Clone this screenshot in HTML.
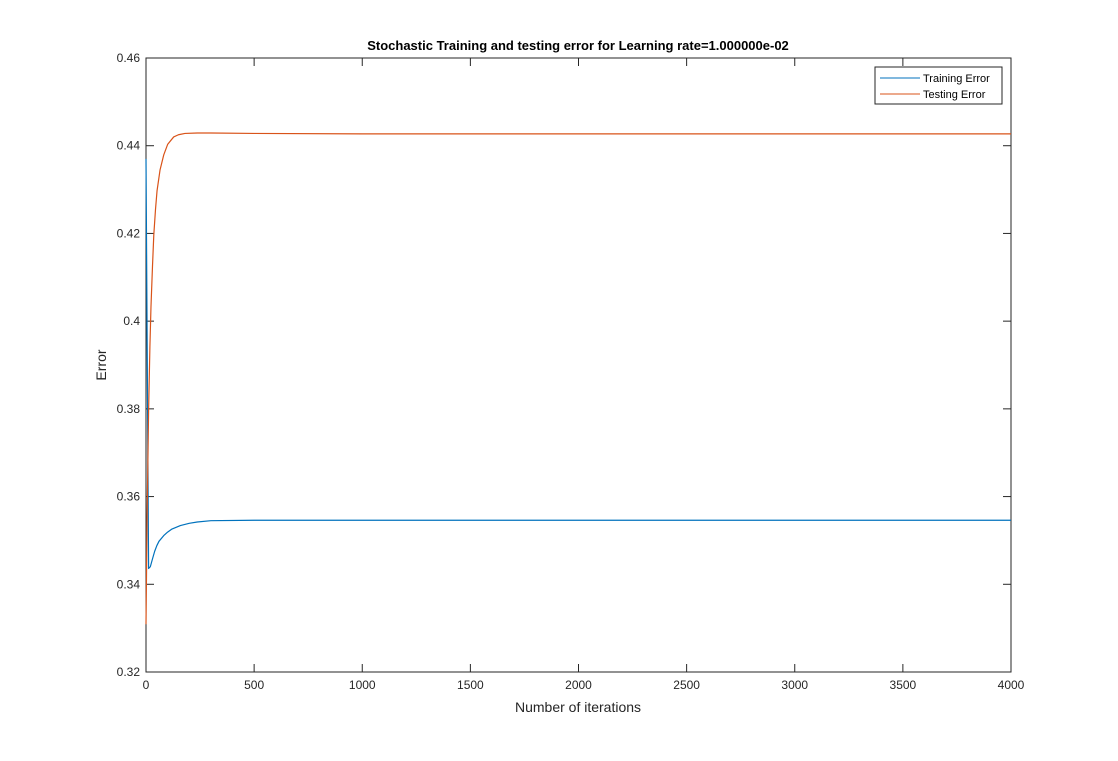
<!DOCTYPE html>
<html><head><meta charset="utf-8"><style>
body{margin:0;background:#fff;}
svg text{font-family:"Liberation Sans",Arial,sans-serif;}
</style></head><body>
<svg id="chart" width="1118" height="756">
<rect x="0" y="0" width="1118" height="756" fill="#fff"/>
<rect x="146" y="58" width="865" height="614" fill="#fff" stroke="#262626" stroke-width="1"/>
<g id="ticks"></g>
<g id="series"></g>
<text x="578" y="50" text-anchor="middle" font-size="13" font-weight="bold" fill="#000">Stochastic Training and testing error for Learning rate=1.000000e-02</text>
<text x="578" y="712" text-anchor="middle" font-size="14" fill="#262626">Number of iterations</text>
<text transform="translate(106,365) rotate(-90)" text-anchor="middle" font-size="14" fill="#262626">Error</text>
<g>
<rect x="875" y="67" width="127" height="37" fill="#fff" stroke="#262626" stroke-width="1"/>
<line x1="880" y1="78" x2="920" y2="78" stroke="#0072BD"/>
<text x="923" y="82" font-size="11" fill="#000">Training Error</text>
<line x1="880" y1="94" x2="920" y2="94" stroke="#D95319"/>
<text x="923" y="98" font-size="11" fill="#000">Testing Error</text>
</g>
</svg>
<script>
const xTicks=[0,500,1000,1500,2000,2500,3000,3500,4000];
const yTicks=[0.32,0.34,0.36,0.38,0.4,0.42,0.44,0.46];
const yTickLabels=["0.32","0.34","0.36","0.38","0.4","0.42","0.44","0.46"];
const trainIters=[0,12,20,30,40,50,60,82,100,120,159,200,237,300,500,1000,4000];
const trainErr=[0.437,0.3436,0.3440,0.3458,0.3475,0.3488,0.3498,0.3511,0.3519,0.3526,0.3534,0.3539,0.3542,0.3545,0.3546,0.3546,0.3546];
const testIters=[0,5,12,18,23,30,36,44,51,65,82,100,128,150,180,237,300,500,1000,4000];
const testErr=[0.3309,0.355,0.3795,0.394,0.4032,0.4125,0.4196,0.4255,0.4297,0.4345,0.4379,0.4403,0.4420,0.4425,0.4428,0.4429,0.4429,0.4428,0.4427,0.4427];
const X0=146,X1=1011,Y0=672,Y1=58;
const xs=v=>X0+(v-0)/(4000-0)*(X1-X0);
const ys=v=>Y0-(v-0.32)/(0.46-0.32)*(Y0-Y1);
const NS="http://www.w3.org/2000/svg";
const tg=document.getElementById('ticks');
function mk(tag,attrs,parent){const e=document.createElementNS(NS,tag);for(const k in attrs)e.setAttribute(k,attrs[k]);parent.appendChild(e);return e;}
xTicks.forEach(t=>{
  const x=xs(t);
  const a=mk('line',{x1:x,y1:Y0,x2:x,y2:Y0-8,stroke:'#262626'},tg);
  
  
  const b=mk('line',{x1:x,y1:Y1,x2:x,y2:Y1+8,stroke:'#262626'},tg);
  
  
  const l=mk('text',{x:x,y:Y0+17,'text-anchor':'middle','font-size':12,fill:'#262626'},tg);
  l.textContent=String(t);
  
  
});
yTicks.forEach((t,i)=>{
  const y=ys(t);
  const a=mk('line',{x1:X0,y1:y,x2:X0+8,y2:y,stroke:'#262626'},tg);
  
  
  const b=mk('line',{x1:X1,y1:y,x2:X1-8,y2:y,stroke:'#262626'},tg);
  
  
  const l=mk('text',{x:X0-6,y:y+4,'text-anchor':'end','font-size':12,fill:'#262626'},tg);
  l.textContent=yTickLabels[i];
  
  
});
const sg=document.getElementById('series');
function line(it,vals,color,name){
  const d=it.map((v,i)=>(i?'L':'M')+xs(v).toFixed(2)+','+ys(vals[i]).toFixed(2)).join(' ');
  const p=mk('path',{d:d,fill:'none',stroke:color,'stroke-width':1.2,'stroke-linejoin':'round'},sg);
  
  
}
line(trainIters,trainErr,'#0072BD','training-error-line');
line(testIters,testErr,'#D95319','testing-error-line');
</script>
</body></html>
